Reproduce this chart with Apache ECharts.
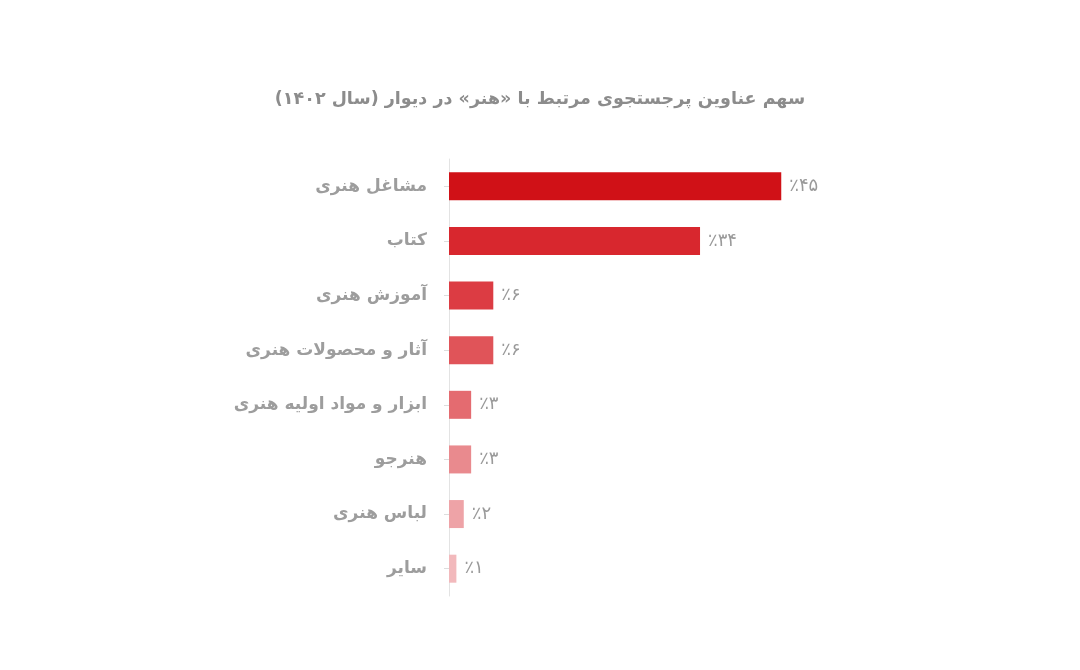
<!DOCTYPE html>
<html dir="rtl">
<head>
<meta charset="utf-8">
<script src="https://cdn.jsdelivr.net/npm/echarts@6/dist/echarts.min.js"></script>
<style>
  html, body { margin: 0; padding: 0; background: #fff; }
  #chart { width: 1080px; height: 670px; }
</style>
</head>
<body>
<div id="chart"></div>
<script>
// categories top to bottom
var categories = ['مشاغل هنری', 'کتاب', 'آموزش هنری', 'آثار و محصولات هنری', 'ابزار و مواد اولیه هنری', 'هنرجو', 'لباس هنری', 'سایر'];
var values = [45, 34, 6, 6, 3, 3, 2, 1];
var barColors = ['#d01117', '#d8272e', '#dc3c43', '#e05459', '#e46b70', '#e98a8e', '#eea3a7', '#f2b9bc'];
var titleText = 'سهم عناوین پرجستجوی مرتبط با «هنر» در دیوار (سال ۱۴۰۲)';

function faDigits(n) {
    return String(n).replace(/[0-9]/g, function (d) { return '۰۱۲۳۴۵۶۷۸۹'[d]; });
}

var chart = echarts.init(document.getElementById('chart'));

var option = {
    backgroundColor: '#fff',
    animation: false,
    title: {
        text: titleText,
        left: 'center',
        top: 85,
        textStyle: {
            color: '#8c8c8c',
            fontSize: 17.5,
            fontWeight: 'bold',
            fontFamily: 'DejaVu Sans'
        }
    },
    grid: {
        left: 449,
        top: 159,
        width: 443,
        height: 437
    },
    xAxis: {
        type: 'value',
        min: 0,
        max: 60,
        show: false
    },
    yAxis: {
        type: 'category',
        inverse: true,
        data: categories,
        offset: 6,
        axisLine: { lineStyle: { color: '#e3e3e3', width: 1 } },
        axisTick: { show: true, length: 5, alignWithLabel: true, lineStyle: { color: '#dddddd' } },
        axisLabel: {
            margin: 16,
            color: '#9d9d9d',
            fontSize: 17,
            fontWeight: 'bold',
            fontFamily: 'DejaVu Sans'
        }
    },
    series: [{
        type: 'bar',
        barWidth: 28,
        data: values.map(function (v, i) {
            return { value: v, itemStyle: { color: barColors[i] } };
        }),
        label: {
            show: true,
            position: 'right',
            distance: 8,
            color: '#9a9a9a',
            fontSize: 18,
            fontFamily: 'DejaVu Sans',
            formatter: function (p) { return '٪' + faDigits(p.value); }
        }
    }]
};

chart.setOption(option);
</script>
</body>
</html>
